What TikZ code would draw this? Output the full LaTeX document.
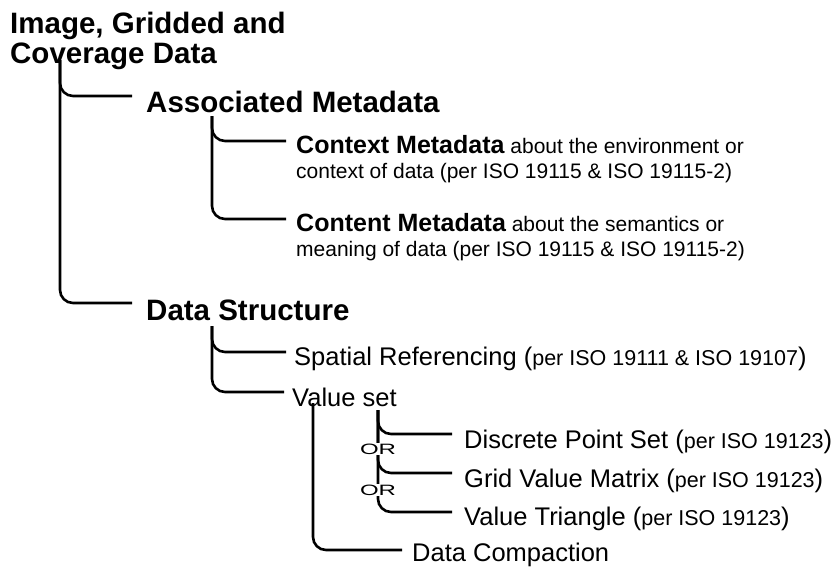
\documentclass[tikz,border=0pt]{standalone}
\usepackage{fontspec}
\setmainfont{Liberation Sans}
\newfontfamily\orfont[FakeStretch=1.6]{Liberation Sans}

\newcommand{\iso}[1]{{\fontsize{21.5}{25}\selectfont #1}}

\begin{document}
\begin{tikzpicture}[
  x=1pt, y=-1pt,
  head/.style={font=\bfseries\fontsize{29.5}{30}\selectfont, inner sep=0pt, anchor=base west},
  item/.style={font=\fontsize{25.5}{25}\selectfont, inner sep=0pt, anchor=base west},
  note/.style={font=\fontsize{21}{25}\selectfont, inner sep=0pt, anchor=base west},
  branch/.style={line width=2.6pt, rounded corners=13pt, shorten >=10pt},
  ornode/.style={font=\orfont\fontsize{15}{15}\selectfont, fill=white, inner sep=1pt}
]
\useasboundingbox (0,0) rectangle (837,566);

\node (top) [head] at (10,33) {\begin{tabular}[t]{@{}l@{}}Image, Gridded and\\Coverage Data\end{tabular}};
\node (assoc) [head] at (146,112) {Associated Metadata};
\node (ctx) [note] at (296,153) {\begin{tabular}[t]{@{}l@{}}{\bfseries\fontsize{25}{25}\selectfont Context Metadata} about the environment or\\context of data (per ISO 19115 \& ISO 19115-2)\end{tabular}};
\node (cnt) [note] at (296,231) {\begin{tabular}[t]{@{}l@{}}{\bfseries\fontsize{25}{25}\selectfont Content Metadata} about the semantics or\\meaning of data (per ISO 19115 \& ISO 19115-2)\end{tabular}};
\node (dstruct) [head] at (146,320) {Data Structure};
\node (spatial) [item] at (294,365) {Spatial Referencing (\iso{per ISO 19111 \& ISO 19107})};
\node (vset) [item] at (292,406) {Value set};
\node (discrete) [item] at (464,448) {Discrete Point Set (\iso{per ISO 19123})};
\node (grid) [item] at (464,487) {Grid Value Matrix (\iso{per ISO 19123})};
\node (tri) [item] at (464,525) {Value Triangle (\iso{per ISO 19123})};
\node (compact) [item] at (412,561) {Data Compaction};

% stems of the tree
\coordinate (s1) at (60,60);
\coordinate (s2) at (212,116);
\coordinate (s3) at (212,326);
\coordinate (s4) at (313,403);
\coordinate (s5) at (378,410);

\draw [branch, shorten >=14pt] (s1) |- ([yshift=16pt]assoc.base west);
\draw [branch, shorten >=14pt] (s1) |- ([yshift=17pt]dstruct.base west);
\draw [branch] (s2) |- ([yshift=12pt]ctx.base west);
\draw [branch] (s2) |- ([yshift=12pt]cnt.base west);
\draw [branch, shorten >=8pt] (s3) |- ([yshift=13pt]spatial.base west);
\draw [branch, shorten >=8pt] (s3) |- ([yshift=14pt]vset.base west);
\draw [branch] (s4) |- ([yshift=11pt]compact.base west);
\draw [branch, shorten >=12pt] (s5) |- ([yshift=14pt]discrete.base west);
\draw [branch, shorten >=12pt] (s5) |- ([yshift=14pt]grid.base west);
\draw [branch, shorten >=12pt] (s5) |- ([yshift=13pt]tri.base west);

\node (or1) [ornode] at (378,449) {OR};
\node (or2) [ornode] at (378,490) {OR};

\end{tikzpicture}
\end{document}
